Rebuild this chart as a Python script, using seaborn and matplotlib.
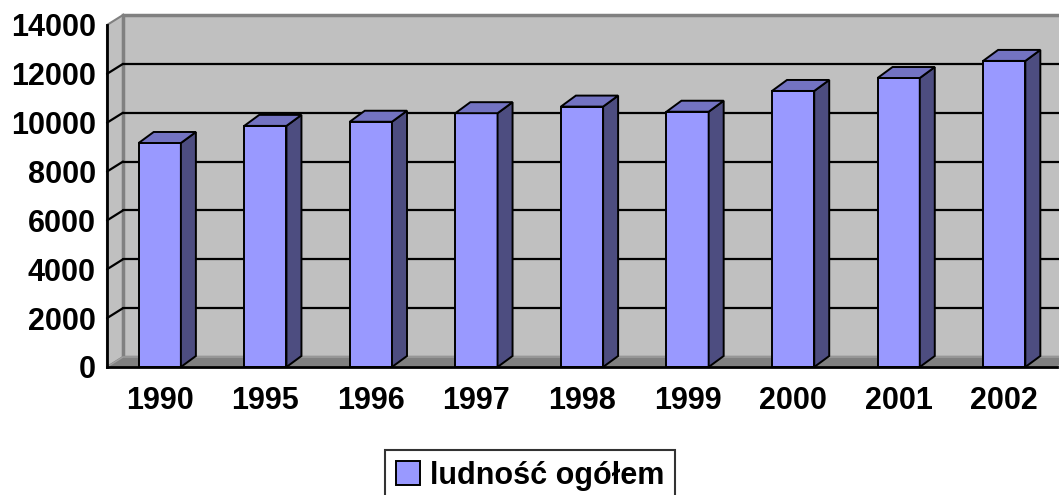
import matplotlib
matplotlib.use("Agg")
import matplotlib.pyplot as plt
from matplotlib.patches import Polygon
import seaborn as sns
import pandas as pd

years = ['1990', '1995', '1996', '1997', '1998', '1999', '2000', '2001', '2002']
population = [9170, 9870, 10040, 10390, 10660, 10450, 11300, 11830, 12530]
y_ticks = [0, 2000, 4000, 6000, 8000, 10000, 12000, 14000]
series_label = 'ludność ogółem'

FRONT = '#9999FF'
TOP = '#7373C2'
SIDE = '#4D4D80'
WALL = '#C0C0C0'
FLOOR = '#808080'

sns.set_style('white')
plt.rcParams['font.family'] = ['Liberation Sans', 'DejaVu Sans']
plt.rcParams['font.weight'] = 'bold'
plt.rcParams['text.color'] = 'black'
plt.rcParams['xtick.color'] = 'black'
plt.rcParams['ytick.color'] = 'black'
plt.rcParams['xtick.labelcolor'] = 'black'
plt.rcParams['ytick.labelcolor'] = 'black'
FS = 22

fig = plt.figure(figsize=(10.59, 4.95), dpi=100)
W, H = 1059, 495
ax = fig.add_axes([107 / W, (H - 367) / H, 950 / W, 342 / H])
ax.patch.set_visible(False)

df = pd.DataFrame({'year': years, 'value': population})
sns.barplot(data=df, x='year', y='value', color=FRONT, saturation=1,
            width=0.4, edgecolor='black', linewidth=1.4, ax=ax, zorder=5)

ymax = y_ticks[-1]
ax.set_xlim(-0.5, len(years) - 0.5)
ax.set_ylim(0, ymax)

# pixel -> data conversion for the fake 3D depth
px_x = 950 / len(years)
px_y = 342 / ymax
wdx, wdy = 16 / px_x, 10 / px_y   # wall depth
bdx, bdy = 15 / px_x, 11 / px_y   # bar depth
x0, x1 = -0.5, len(years) - 0.5

# side wall, back wall, floor
ax.add_patch(Polygon([(x0, 0), (x0, ymax), (x0 + wdx, ymax + wdy), (x0 + wdx, wdy)],
                     closed=True, facecolor=WALL, edgecolor=FLOOR, lw=1.5,
                     clip_on=False, zorder=0))
ax.add_patch(Polygon([(x0 + wdx, wdy), (x0 + wdx, ymax + wdy),
                      (x1 + wdx, ymax + wdy), (x1 + wdx, wdy)],
                     closed=True, facecolor=WALL, edgecolor=FLOOR, lw=2.5,
                     clip_on=False, zorder=0))
ax.add_patch(Polygon([(x0, 0), (x1, 0), (x1 + wdx, wdy), (x0 + wdx, wdy)],
                     closed=True, facecolor=FLOOR, edgecolor='#A0A0A0', lw=1,
                     clip_on=False, zorder=1))

# grid lines on back wall and side wall
for v in y_ticks[1:-1]:
    ax.plot([x0 + wdx, x1 + wdx], [v + wdy, v + wdy], color='black', lw=1.6,
            clip_on=False, zorder=2)
    ax.plot([x0, x0 + wdx], [v, v + wdy], color='black', lw=1.6,
            clip_on=False, zorder=2)

# top and side faces of the bars
for bar, v in zip(ax.containers[0], population):
    left = bar.get_x()
    right = left + bar.get_width()
    top = Polygon([(left, v), (right, v), (right + bdx, v + bdy), (left + bdx, v + bdy)],
                  closed=True, facecolor=TOP, edgecolor='black', lw=1.4,
                  clip_on=False, zorder=6)
    side = Polygon([(right, 0), (right, v), (right + bdx, v + bdy), (right + bdx, bdy)],
                   closed=True, facecolor=SIDE, edgecolor='black', lw=1.4,
                   clip_on=False, zorder=6)
    ax.add_patch(side)
    ax.add_patch(top)

# axes
for s in ['top', 'right']:
    ax.spines[s].set_visible(False)
for s in ['left', 'bottom']:
    ax.spines[s].set_color('black')
    ax.spines[s].set_linewidth(2)
    ax.spines[s].set_zorder(7)

ax.set_yticks(y_ticks)
ax.set_yticklabels([str(t) for t in y_ticks], fontsize=FS, fontweight='bold', color='black')
ax.tick_params(axis='y', direction='out', length=5, width=2, pad=3, colors='black')
ax.set_xticks(range(len(years)))
ax.set_xticklabels(years, fontsize=FS, fontweight='bold', color='black')
ax.set_xticks([i - 0.5 for i in range(len(years) + 1)], minor=True)
ax.tick_params(axis='x', which='major', length=0, pad=14)
ax.tick_params(axis='x', which='minor', direction='out', length=5, width=2, color='black')
ax.set_xlabel('')
ax.set_ylabel('')

leg = fig.legend(handles=[ax.containers[0][0]], labels=[series_label],
                 loc='upper center', bbox_to_anchor=(530 / W, (H - 450) / H),
                 frameon=True, fancybox=False, edgecolor='black',
                 prop={'size': FS, 'weight': 'bold'}, labelcolor='black',
                 handlelength=0.8, handleheight=0.8, handletextpad=0.3,
                 borderpad=0.35, borderaxespad=0)
leg.get_frame().set_linewidth(1.5)

fig.savefig('out.png', dpi=100)
